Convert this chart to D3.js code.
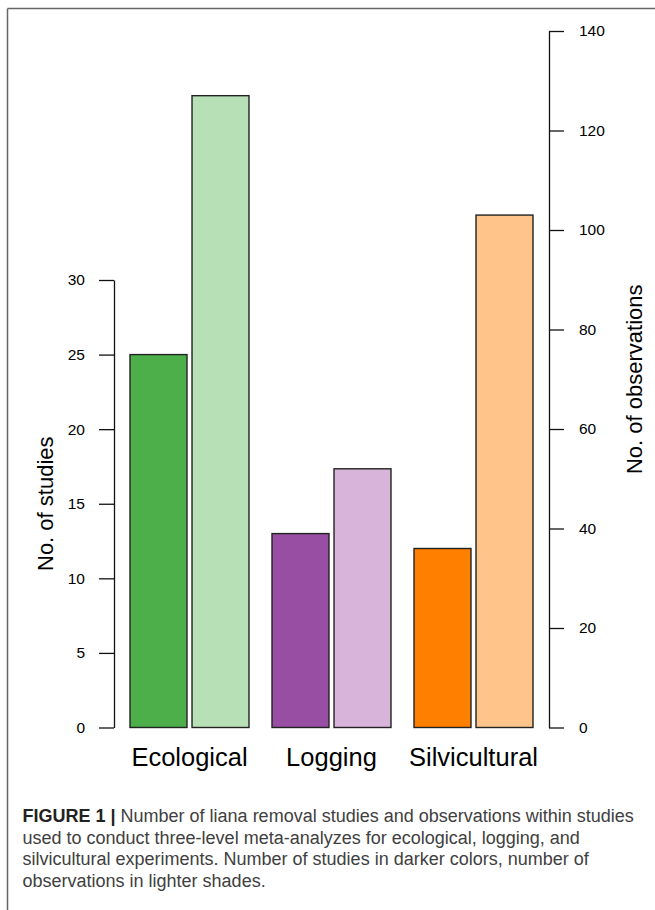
<!DOCTYPE html>
<html>
<head>
<meta charset="utf-8">
<script src="https://cdn.jsdelivr.net/npm/d3@7"></script>
<style>
  body { margin: 0; background: #fff; }
  svg { display: block; }
</style>
</head>
<body>
<div class="chart"></div>
<script>
// values
const categories = ["Ecological", "Logging", "Silvicultural"];
const studies = [25, 13, 12];
const observations = [127, 52, 103];
const studyTicks = [0, 5, 10, 15, 20, 25, 30];
const obsTicks = [0, 20, 40, 60, 80, 100, 120, 140];
const darkColors = ["#4daf4a", "#984ea3", "#ff7f00"];
const lightColors = ["#b8e0b6", "#d8b4da", "#fec48a"];
const captionLines = [
    "Number of liana removal studies and observations within studies",
    "used to conduct three-level meta-analyzes for ecological, logging, and",
    "silvicultural experiments. Number of studies in darker colors, number of",
    "observations in lighter shades."
];

const font = "'Liberation Sans', Arial, Helvetica, sans-serif";

const svg = d3.select(".chart")
              .append("svg")
              .attr("width", 655)
              .attr("height", 910);

// frame (only top and left edges are visible in the crop)
svg.append("line")
   .attr("x1", 7.5).attr("y1", 8.5).attr("x2", 655).attr("y2", 8.5)
   .attr("stroke", "#666").attr("stroke-width", 1.5);
svg.append("line")
   .attr("x1", 7.5).attr("y1", 8.5).attr("x2", 7.5).attr("y2", 910)
   .attr("stroke", "#666").attr("stroke-width", 1.5);

const xScale = d3.scaleBand()
                 .domain(categories)
                 .range([118.5, 544.5])
                 .paddingInner(0.162)
                 .paddingOuter(0.081);

const subScale = d3.scaleBand()
                   .domain(["studies", "observations"])
                   .range([0, xScale.bandwidth()])
                   .paddingInner(0.081);

const yLeft = d3.scaleLinear()
                .domain([0, 30])
                .range([727.5, 280]);

const yRight = d3.scaleLinear()
                 .domain([0, 140])
                 .range([727.5, 31]);

const data = categories.map((c, i) => ({
    category: c,
    studies: studies[i],
    observations: observations[i],
    dark: darkColors[i],
    light: lightColors[i]
}));

const group = svg.selectAll("g.group")
                 .data(data)
                 .join("g")
                 .attr("class", "group")
                 .attr("transform", d => `translate(${xScale(d.category)}, 0)`);

group.append("rect")
     .attr("x", subScale("studies"))
     .attr("y", d => yLeft(d.studies))
     .attr("width", subScale.bandwidth())
     .attr("height", d => yLeft(0) - yLeft(d.studies))
     .attr("fill", d => d.dark)
     .attr("stroke", "#222")
     .attr("stroke-width", 1.4);

group.append("rect")
     .attr("x", subScale("observations"))
     .attr("y", d => yRight(d.observations))
     .attr("width", subScale.bandwidth())
     .attr("height", d => yRight(0) - yRight(d.observations))
     .attr("fill", d => d.light)
     .attr("stroke", "#222")
     .attr("stroke-width", 1.4);

group.append("text")
     .text(d => d.category)
     .attr("x", xScale.bandwidth() / 2)
     .attr("y", 765.5)
     .attr("text-anchor", "middle")
     .style("font-family", font)
     .style("font-size", "25.5px")
     .attr("fill", "#000");

// left axis - studies
const leftAxis = svg.append("g")
                    .attr("transform", "translate(114, 0)")
                    .call(d3.axisLeft(yLeft)
                            .tickValues(studyTicks)
                            .tickSize(15)
                            .tickSizeOuter(0)
                            .tickPadding(14));

// right axis - observations
const rightAxis = svg.append("g")
                     .attr("transform", "translate(549, 0)")
                     .call(d3.axisRight(yRight)
                             .tickValues(obsTicks)
                             .tickSize(15)
                             .tickSizeOuter(0)
                             .tickPadding(15));

[leftAxis, rightAxis].forEach(ax => {
    ax.selectAll("path, line")
      .attr("stroke", "#111")
      .attr("stroke-width", 1.3);
    ax.selectAll("text")
      .style("font-family", font)
      .style("font-size", "15.5px")
      .attr("fill", "#000");
});

svg.append("text")
   .text("No. of studies")
   .attr("transform", `translate(53, ${(yLeft(0) + yLeft(30)) / 2}) rotate(-90)`)
   .attr("text-anchor", "middle")
   .style("font-family", font)
   .style("font-size", "22px")
   .attr("fill", "#000");

svg.append("text")
   .text("No. of observations")
   .attr("transform", `translate(641.5, ${(yRight(0) + yRight(140)) / 2}) rotate(-90)`)
   .attr("text-anchor", "middle")
   .style("font-family", font)
   .style("font-size", "22px")
   .attr("fill", "#000");

// caption
const caption = svg.append("g")
                   .style("font-family", font)
                   .style("font-size", "18px");

captionLines.forEach((line, i) => {
    const t = caption.append("text")
                     .attr("x", 22.5)
                     .attr("y", 822 + i * 21.6)
                     .attr("fill", "#404040");
    if (i === 0) {
        t.append("tspan")
         .text("FIGURE 1 | ")
         .style("font-weight", "bold")
         .attr("fill", "#222");
    }
    t.append("tspan").text(line);
});
</script>
</body>
</html>
